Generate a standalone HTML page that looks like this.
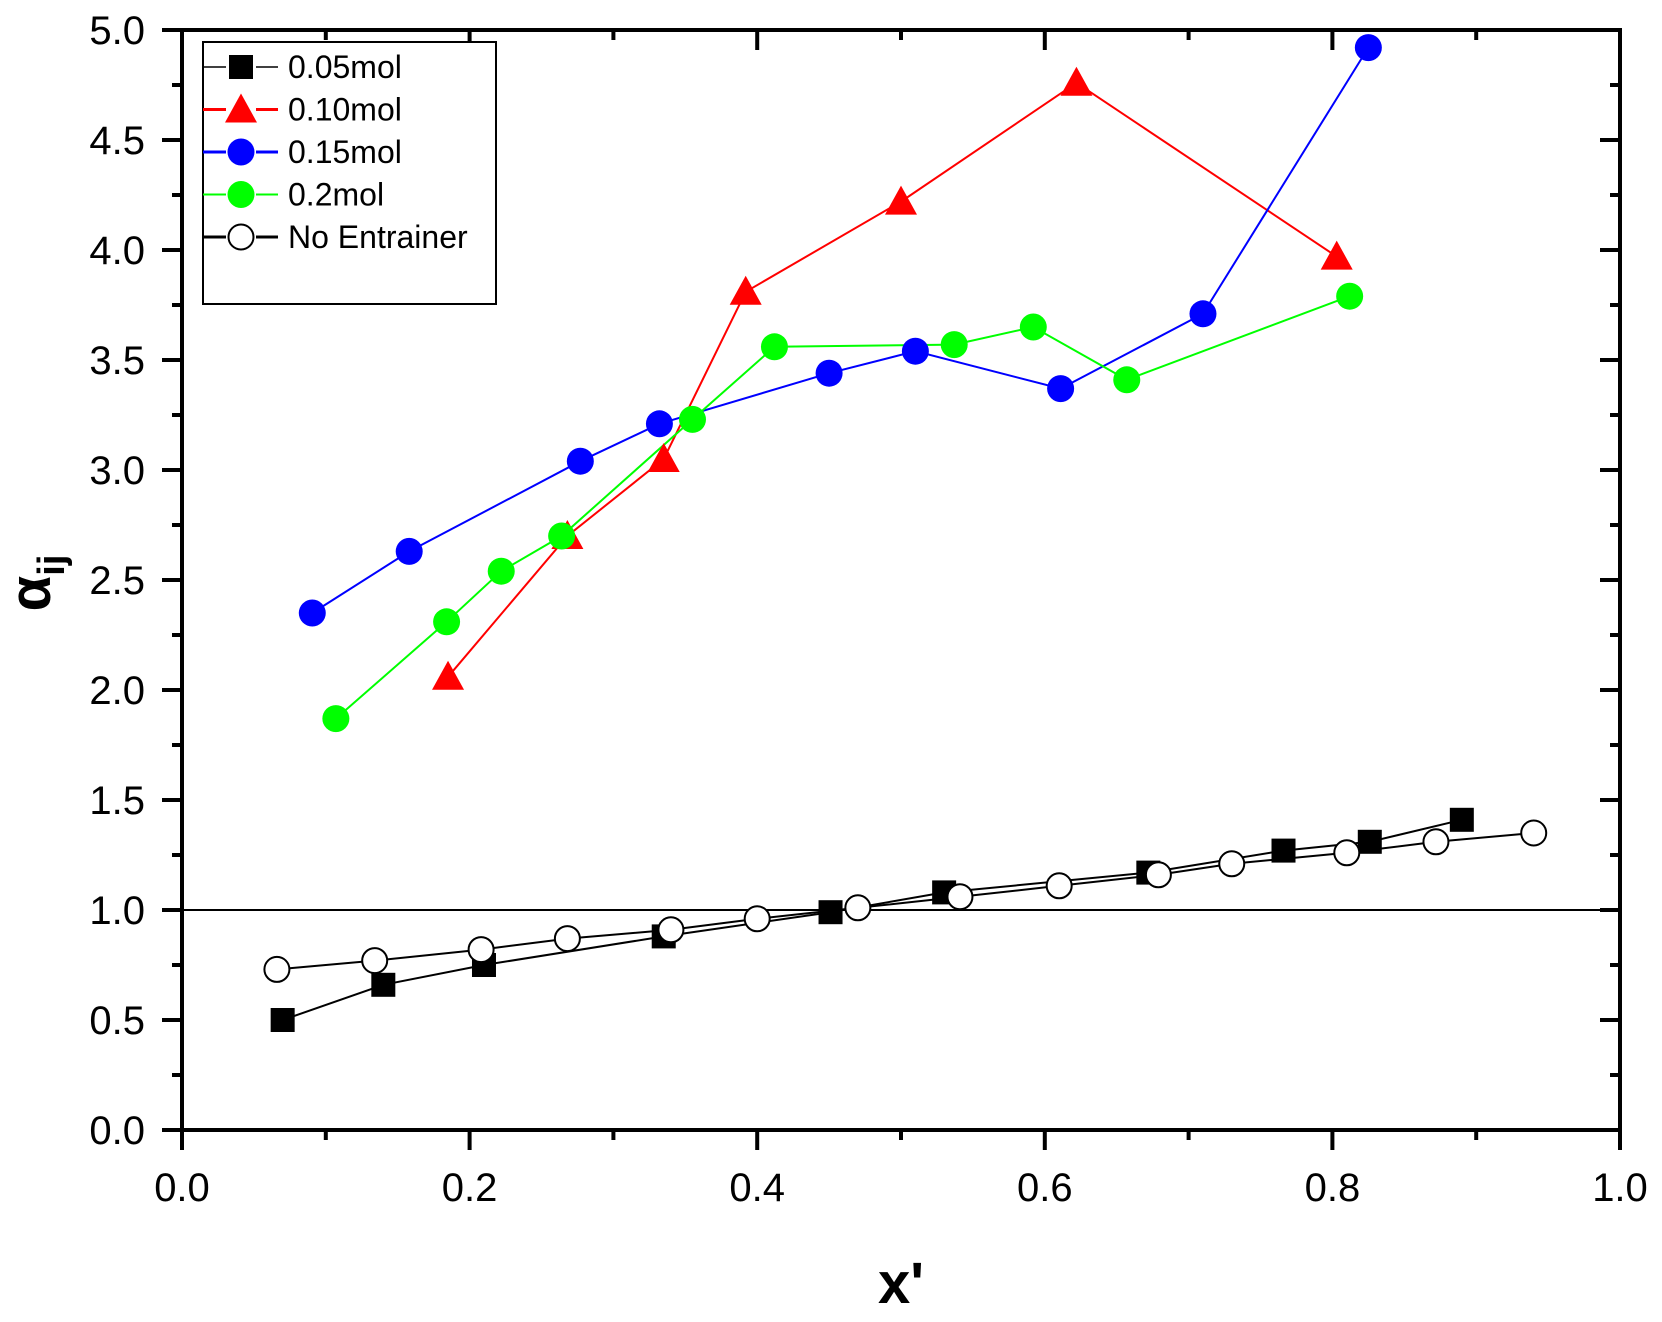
<!DOCTYPE html>
<html><head><style>body{margin:0;background:#fff}</style></head><body>
<svg width="1662" height="1317" xmlns="http://www.w3.org/2000/svg" font-family="Liberation Sans, Arial, sans-serif">
<rect width="1662" height="1317" fill="#fff"/>
<g id="ticks" stroke="#000" stroke-width="4"></g>
<line x1="182" y1="910" x2="1620" y2="910" stroke="#000" stroke-width="2"/>
<g id="data"></g>
<rect x="182" y="30" width="1438" height="1100" fill="none" stroke="#000" stroke-width="4"/>
<g id="labels" font-size="40" fill="#000"></g>
<rect x="203" y="42" width="293" height="262" fill="#fff" stroke="#000" stroke-width="2"/>
<g id="legend" font-size="32"></g>
<text x="901" y="1303" font-size="58" font-weight="bold" text-anchor="middle">x'</text>
<g transform="translate(50,583) rotate(-90)"><text font-size="58" font-weight="bold" text-anchor="middle">α<tspan font-size="38" dy="14">ij</tspan></text></g>
<script>
const X=x=>182+x*1438,Y=y=>1130-y*220,NS="http://www.w3.org/2000/svg";
function el(p,t,a){const e=document.createElementNS(NS,t);for(const k in a)e.setAttribute(k,a[k]);p.appendChild(e);return e;}
const tk=document.getElementById('ticks'),lb=document.getElementById('labels');
for(let i=0;i<=10;i++){const x=X(i/10),L=i%2?10:20;
 el(tk,'line',{x1:x,y1:1130,x2:x,y2:1130+L});el(tk,'line',{x1:x,y1:30,x2:x,y2:30+L});
 if(i%2==0){const t=el(lb,'text',{x:x,y:1201,'text-anchor':'middle'});t.textContent=(i/10).toFixed(1);}}
for(let i=0;i<=20;i++){const y=Y(i/4),L=i%2?10:20;
 el(tk,'line',{x1:182,y1:y,x2:182-L,y2:y});el(tk,'line',{x1:1620,y1:y,x2:1620-L,y2:y});
 if(i%2==0){const t=el(lb,'text',{x:145,y:y+14,'text-anchor':'end'});t.textContent=(i/4).toFixed(1);}}
const D=document.getElementById('data');
const S=[
{c:'#000',m:'sq',w:2,p:[[0.07,0.5],[0.14,0.66],[0.21,0.75],[0.335,0.88],[0.451,0.99],[0.53,1.08],[0.672,1.17],[0.766,1.27],[0.826,1.31],[0.89,1.41]]},
{c:'#000',m:'oc',w:2,p:[[0.066,0.73],[0.134,0.77],[0.208,0.82],[0.268,0.87],[0.34,0.91],[0.40,0.96],[0.47,1.01],[0.541,1.06],[0.61,1.11],[0.679,1.16],[0.73,1.21],[0.81,1.26],[0.872,1.31],[0.94,1.35]]},
{c:'#f00',m:'tr',w:2,p:[[0.185,2.06],[0.268,2.70],[0.335,3.05],[0.392,3.81],[0.50,4.22],[0.622,4.76],[0.803,3.97]]},
{c:'#00f',m:'ci',w:2,p:[[0.0906,2.35],[0.158,2.63],[0.277,3.04],[0.332,3.21],[0.450,3.44],[0.510,3.54],[0.611,3.37],[0.710,3.71],[0.825,4.92]]},
{c:'#0f0',m:'ci',w:2,p:[[0.107,1.87],[0.184,2.31],[0.222,2.54],[0.264,2.70],[0.355,3.23],[0.412,3.56],[0.537,3.57],[0.592,3.65],[0.657,3.41],[0.812,3.79]]}];
function mk(g,m,c,x,y){
 if(m=='sq')el(g,'rect',{x:x-12,y:y-12,width:24,height:24,fill:c});
 else if(m=='oc')el(g,'circle',{cx:x,cy:y,r:12.5,fill:'#fff',stroke:c,'stroke-width':2});
 else if(m=='ci')el(g,'circle',{cx:x,cy:y,r:13.5,fill:c});
 else el(g,'polygon',{points:`${x},${y-16} ${x+16},${y+13} ${x-16},${y+13}`,fill:c});}
for(const s of S){el(D,'polyline',{points:s.p.map(q=>X(q[0])+','+Y(q[1])).join(' '),fill:'none',stroke:s.c,'stroke-width':s.w});}
for(const s of S)for(const q of s.p)mk(D,s.m,s.c,X(q[0]),Y(q[1]));
const lg=document.getElementById('legend');
const L=[['sq','#000','0.05mol',1.5],['tr','#f00','0.10mol',3],['ci','#00f','0.15mol',3],['ci','#0f0','0.2mol',2],['oc','#000','No Entrainer',3]];
L.forEach((l,i)=>{const y=67+i*42.5;el(lg,'line',{x1:203,y1:y,x2:226,y2:y,stroke:l[1],'stroke-width':l[3]});el(lg,'line',{x1:256,y1:y,x2:278,y2:y,stroke:l[1],'stroke-width':l[3]});mk(lg,l[0],l[1],241,y);
 const t=el(lg,'text',{x:288,y:y+11});t.textContent=l[2];});
</script>
</svg>
</body></html>
